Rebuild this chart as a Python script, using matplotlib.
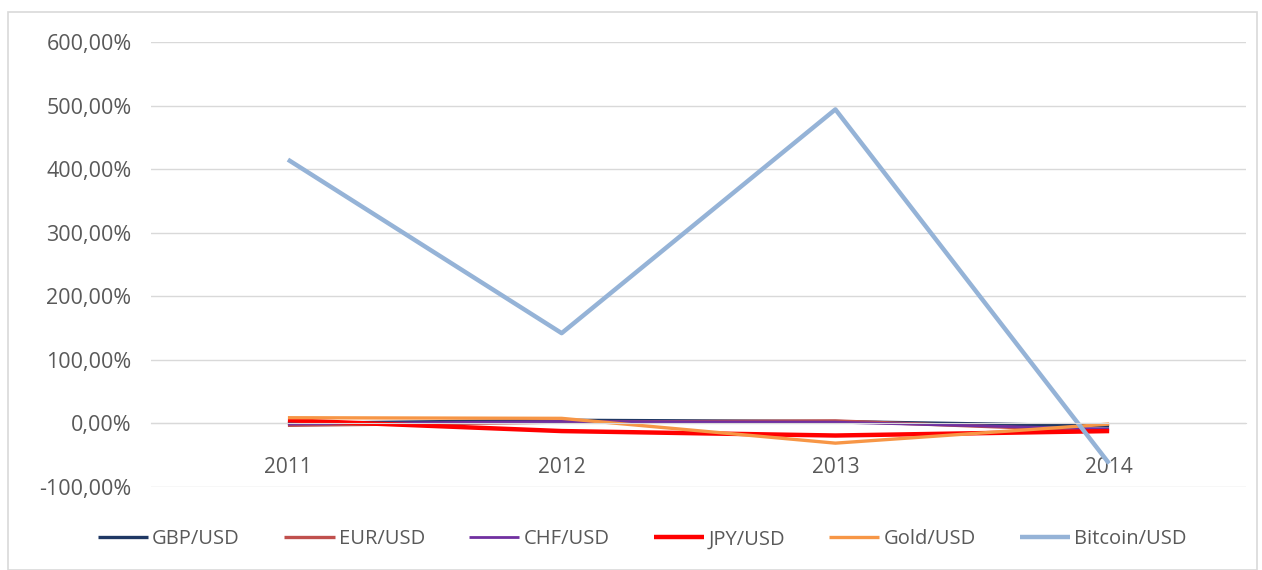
import matplotlib.pyplot as plt
from matplotlib.patches import Rectangle
from matplotlib.ticker import FuncFormatter

plt.rcParams['font.family'] = ['Open Sans', 'DejaVu Sans']

years = ['2011', '2012', '2013', '2014']
gbp = [0.0, 5.0, 3.0, -4.0]
eur = [-3.0, 2.0, 4.0, -12.0]
chf = [-1.0, 3.0, 2.0, -9.0]
jpy = [5.0, -12.0, -19.0, -12.0]
gold = [9.0, 8.0, -31.0, -1.0]
bitcoin = [415.0, 142.0, 494.0, -63.0]

series = [
    ('GBP/USD', gbp, '#1f3864', 2.4),
    ('EUR/USD', eur, '#c0504d', 2.4),
    ('CHF/USD', chf, '#7030a0', 2.0),
    ('JPY/USD', jpy, '#ff0000', 3.2),
    ('Gold/USD', gold, '#f79646', 2.4),
    ('Bitcoin/USD', bitcoin, '#95b3d7', 3.2),
]

fig = plt.figure(figsize=(12.62, 5.70), dpi=100)
ax = fig.add_axes([0.1197, 0.1456, 0.8676, 0.7807])

x = range(len(years))
for name, vals, color, lw in series:
    ax.plot(x, vals, color=color, lw=lw, label=name, solid_capstyle='butt')

ax.set_xlim(-0.5, len(years) - 0.5)
ax.set_ylim(-100, 600)
ax.set_yticks(range(-100, 601, 100))
ax.yaxis.set_major_formatter(FuncFormatter(lambda v, p: f'{v:.2f}%'.replace('.', ',')))
ax.set_xticks(list(x))
ax.set_xticklabels(years)
ax.grid(axis='y', color='#d9d9d9', lw=1)
ax.set_axisbelow(True)
for s in ['left', 'right', 'top']:
    ax.spines[s].set_visible(False)
ax.spines['bottom'].set_position(('data', 0))
ax.spines['bottom'].set_color('#d9d9d9')
ax.tick_params(axis='both', length=0, labelcolor='#595959')
ax.tick_params(axis='y', labelsize=15.5, pad=14)
ax.tick_params(axis='x', labelsize=15, pad=24)

fig.legend(loc='center', bbox_to_anchor=(0.509, 0.054), ncol=6, frameon=False,
           fontsize=14.5, labelcolor='#595959', handlelength=2.5,
           handletextpad=0.2, columnspacing=2.2)

fig.patches.append(Rectangle((8 / 1262, 0), 1249 / 1262, 558 / 570,
                             transform=fig.transFigure, fill=False,
                             edgecolor='#d9d9d9', lw=1.2))

fig.savefig('out.png', dpi=100)
